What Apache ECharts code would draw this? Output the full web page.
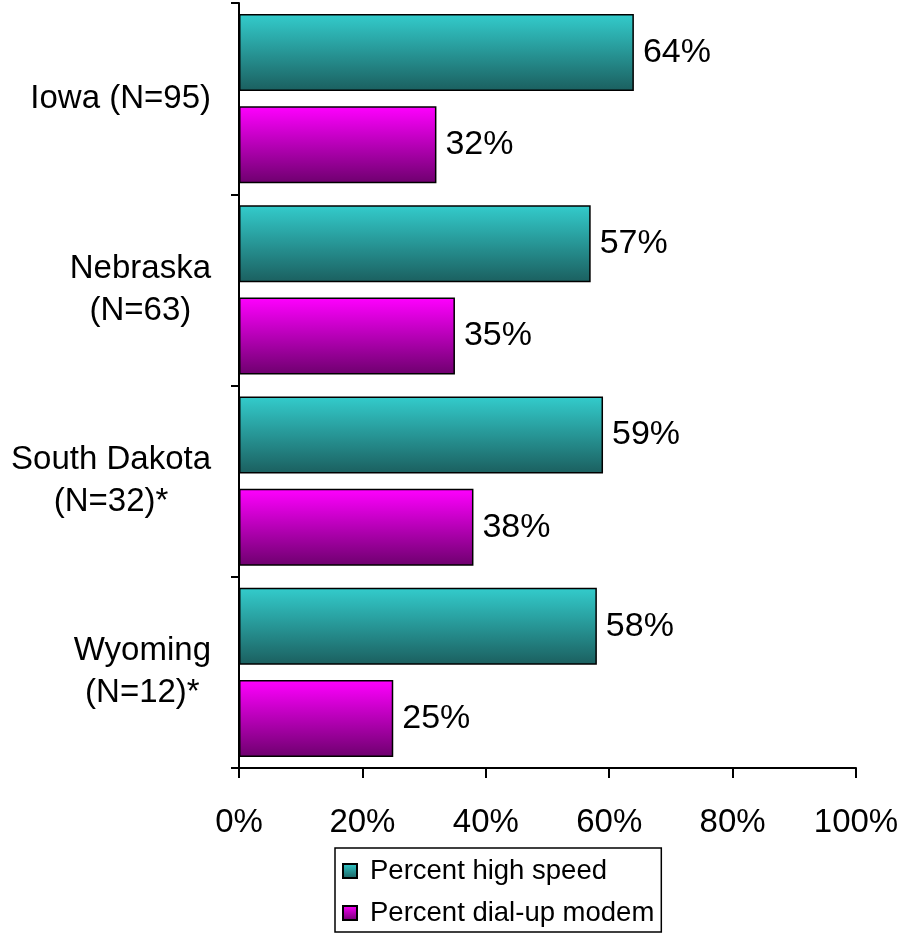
<!DOCTYPE html>
<html>
<head>
<meta charset="utf-8">
<script src="https://cdn.jsdelivr.net/npm/echarts@6/dist/echarts.min.js"></script>
<style>
  html, body { margin: 0; padding: 0; background: #fff; }
  #chart { width: 914px; height: 937px; }
</style>
</head>
<body>
<div id="chart"></div>
<script>
// states, top to bottom
const states = ["Iowa (N=95)", "Nebraska\n(N=63)", "South Dakota\n(N=32)*", "Wyoming\n(N=12)*"];
const highSpeed = [64, 57, 59, 58];
const dialUp = [32, 35, 38, 25];
const xTicks = [0, 20, 40, 60, 80, 100];

const font = "'Liberation Sans', Arial, sans-serif";

const chart = echarts.init(document.getElementById("chart"));

const grad = (top, bottom) =>
  new echarts.graphic.LinearGradient(0, 0, 0, 1, [
    { offset: 0, color: top },
    { offset: 1, color: bottom },
  ]);

const barLabel = {
  show: true,
  position: "right",
  distance: 9,
  formatter: "{c}%",
  color: "#000",
  fontFamily: font,
  fontSize: 34,
};

const option = {
  animation: false,
  grid: {
    left: 239,
    right: 58,
    top: 3,
    bottom: 169,
    containLabel: false,
  },
  legend: {
    orient: "vertical",
    left: 335,
    top: 848,
    borderColor: "#000",
    borderWidth: 1.5,
    padding: [9, 7, 5, 7],
    itemGap: 14,
    itemWidth: 14,
    itemHeight: 14,
    icon: "rect",
    textStyle: {
      color: "#000",
      fontFamily: font,
      fontSize: 27.5,
      padding: [0, 0, 0, 8],
    },
    data: ["Percent high speed", "Percent dial-up modem"],
  },
  xAxis: {
    type: "value",
    min: 0,
    max: 100,
    interval: 20,
    splitLine: { show: false },
    axisLine: { show: true, lineStyle: { color: "#000", width: 2 } },
    axisTick: { show: true, length: 10, lineStyle: { color: "#000", width: 2 } },
    axisLabel: {
      formatter: (v) => (xTicks.includes(v) ? v + "%" : ""),
      color: "#000",
      fontFamily: font,
      fontSize: 33,
      margin: 38,
    },
  },
  yAxis: {
    type: "category",
    inverse: true,
    data: states,
    axisLine: { show: true, lineStyle: { color: "#000", width: 2 } },
    axisTick: { show: true, length: 8, lineStyle: { color: "#000", width: 2 } },
    axisLabel: {
      color: "#000",
      fontFamily: font,
      fontSize: 33,
      margin: 28,
      lineHeight: 42,
      formatter: (v) =>
        v.split("\n").map((s) => "{c|" + s + "}").join("\n"),
      rich: {
        c: { align: "center", fontFamily: font, fontSize: 33, lineHeight: 42, color: "#000" },
      },
    },
  },
  series: [
    {
      name: "Percent high speed",
      type: "bar",
      data: highSpeed,
      barWidth: 77,
      barGap: "20%",
      itemStyle: {
        color: grad("#33CCCC", "#1B5F5F"),
        borderColor: "#000",
        borderWidth: 1.5,
      },
      label: barLabel,
    },
    {
      name: "Percent dial-up modem",
      type: "bar",
      data: dialUp,
      barWidth: 77,
      barGap: "20%",
      itemStyle: {
        color: grad("#FF00FF", "#6E006E"),
        borderColor: "#000",
        borderWidth: 1.5,
      },
      label: barLabel,
    },
  ],
};

chart.setOption(option);
</script>
</body>
</html>
